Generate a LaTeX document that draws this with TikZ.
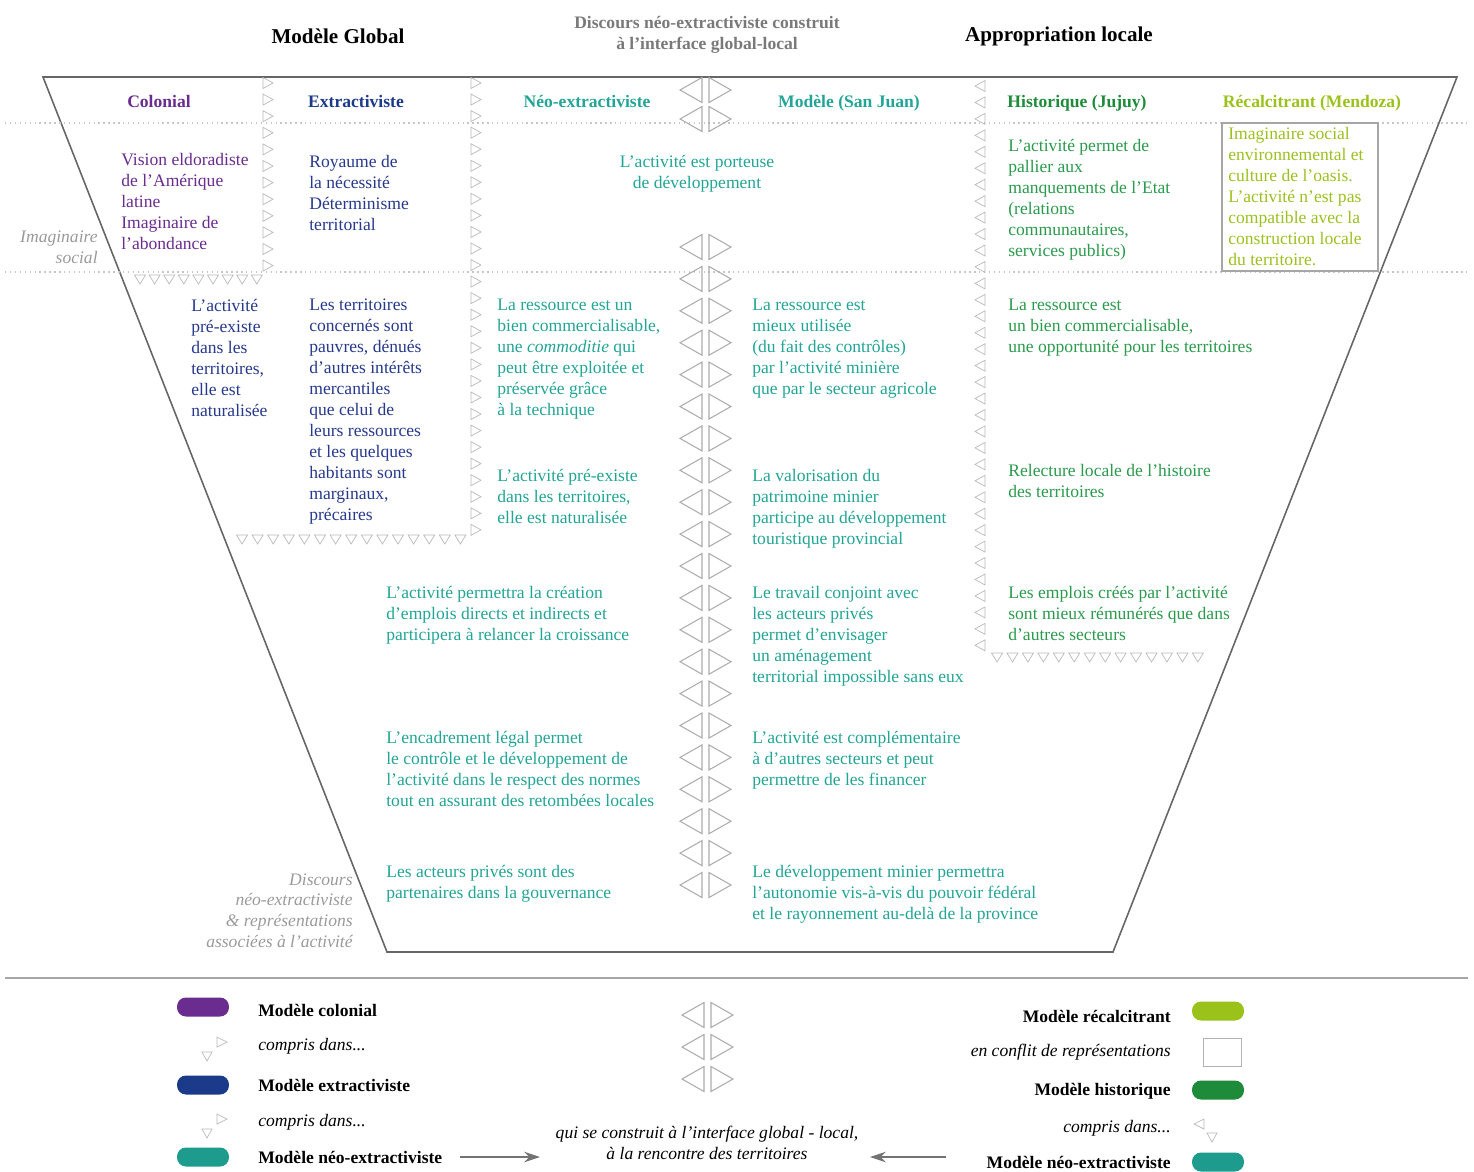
\documentclass[tikz,border=0pt]{standalone}
\usepackage{fontspec}
\setmainfont{Liberation Serif}
\usepackage{tikz}
\usetikzlibrary{arrows.meta}
\definecolor{colpurple}{HTML}{6A2C8E}
\definecolor{extblue}{HTML}{1B3A8A}
\definecolor{exttext}{HTML}{26398C}
\definecolor{neoteal}{HTML}{1D9C8E}
\definecolor{neotext}{HTML}{22A596}
\definecolor{histgreen}{HTML}{1E8B3A}
\definecolor{histtext}{HTML}{2A9A4C}
\definecolor{reclime}{HTML}{9AC21A}
\definecolor{rectext}{HTML}{9CC020}
\definecolor{sidegray}{HTML}{9A9A9A}

\begin{document}
\begin{tikzpicture}[x=0.02cm, y=-0.02cm,
    every node/.style={font=\fontsize{10}{11.95}\selectfont},
    txt/.style={anchor=north west, align=left, inner sep=0pt},
    colhead/.style={anchor=base, font=\fontsize{10}{12}\selectfont\bfseries, inner sep=0pt},
    sidelabel/.style={anchor=north east, align=right, inner sep=0pt, color=sidegray, font=\fontsize{10}{11.95}\selectfont\itshape},
    smalltri/.style={draw=gray!55, line width=0.4pt},
    bigtri/.style={draw=gray!65, line width=0.6pt},
    pill/.style={minimum width=1.04cm, minimum height=0.38cm, rounded corners=0.18cm, inner sep=0pt},
    legarrow/.style={draw=gray!90!black, line width=0.7pt, -{Stealth[length=9pt, width=6pt]}}]
    \useasboundingbox (0,0) rectangle (1474,1171);

    % Top titles
    \node[font=\fontsize{12}{14}\selectfont\bfseries] (global) at (338,36) {Modèle Global};
    \node[font=\fontsize{10}{11.9}\selectfont\bfseries, color=gray!95!black, align=center, anchor=north] (interface) at (707,10) {Discours néo-extractiviste construit\\à l’interface global-local};
    \node[font=\fontsize{12}{14}\selectfont\bfseries] (local) at (1059,36) {Appropriation locale};

    % Funnel outline and rows
    \draw[black!60, line width=0.9pt] (43,77) -- (1457,77) -- (1113,952) -- (387,952) -- cycle;
    \draw[gray!45, line width=0.8pt, dotted] (5,123) -- (1470,123);
    \draw[gray!45, line width=0.8pt, dotted] (5,272) -- (1470,272);

    % Column headers
    \node[colhead, color=colpurple] (hcol) at (159,107.5) {Colonial};
    \node[colhead, color=extblue] (hext) at (356,107.5) {Extractiviste};
    \node[colhead, color=neotext] (hneo) at (587,107.5) {Néo-extractiviste};
    \node[colhead, color=neotext] (hsj) at (849,107.5) {Modèle (San Juan)};
    \node[colhead, color=histgreen] (hjuj) at (1077,107.5) {Historique (Jujuy)};
    \node[colhead, color=reclime] (hmen) at (1312,107.5) {Récalcitrant (Mendoza)};

    % Side labels
    \node[sidelabel] (imag) at (98,231) {Imaginaire\\social};
    \node[sidelabel] (disc) at (353,873) {Discours\\néo-extractiviste\\\& représentations\\associées à l’activité};

    % Small triangles between columns
    \foreach \k in {0,...,11} {
        \pgfmathsetmacro{\ty}{83 + \k*16.6}
        \draw[smalltri] (263,\ty-5.5) -- (273,\ty) -- (263,\ty+5.5) -- cycle;
    }
    \foreach \k in {0,...,27} {
        \pgfmathsetmacro{\ty}{83 + \k*16.55}
        \draw[smalltri] (471,\ty-5.5) -- (481,\ty) -- (471,\ty+5.5) -- cycle;
    }
    \foreach \k in {0,...,34} {
        \pgfmathsetmacro{\ty}{86 + \k*16.45}
        \draw[smalltri] (985,\ty-5.5) -- (975,\ty) -- (985,\ty+5.5) -- cycle;
    }

    % Small triangles under boxes
    \foreach \k in {0,...,8} {
        \pgfmathsetmacro{\tx}{140 + \k*14.6}
        \draw[smalltri] (\tx-5.5,275) -- (\tx+5.5,275) -- (\tx,284) -- cycle;
    }
    \foreach \k in {0,...,14} {
        \pgfmathsetmacro{\tx}{242 + \k*15.6}
        \draw[smalltri] (\tx-5.5,535) -- (\tx+5.5,535) -- (\tx,544) -- cycle;
    }
    \foreach \k in {0,...,13} {
        \pgfmathsetmacro{\tx}{997 + \k*15.45}
        \draw[smalltri] (\tx-5.5,653) -- (\tx+5.5,653) -- (\tx,662) -- cycle;
    }

    % Central double triangles
    \foreach \ty in {90,119} {
        \draw[bigtri] (702,\ty-12.5) -- (680,\ty) -- (702,\ty+12.5) -- cycle;
        \draw[bigtri] (709,\ty-12.5) -- (731,\ty) -- (709,\ty+12.5) -- cycle;
    }
    \foreach \k in {0,...,20} {
        \pgfmathsetmacro{\ty}{247 + \k*31.9}
        \draw[bigtri] (702,\ty-12.5) -- (680,\ty) -- (702,\ty+12.5) -- cycle;
        \draw[bigtri] (709,\ty-12.5) -- (731,\ty) -- (709,\ty+12.5) -- cycle;
    }

    % Imaginaire social row
    \node[txt, color=colpurple] (colvision) at (121,153) {Vision eldoradiste\\de l’Amérique\\latine\\Imaginaire de\\l’abondance};
    \node[txt, color=exttext] (extroyaume) at (309,155) {Royaume de\\la nécessité\\Déterminisme\\territorial};
    \node[txt, anchor=north, align=center, color=neotext] (neoporteuse) at (697,155) {L’activité est porteuse\\de développement};
    \node[txt, color=histtext] (jujpallier) at (1008,139) {L’activité permet de\\pallier aux\\manquements de l’Etat\\(relations\\communautaires,\\services publics)};
    \draw[gray!70, line width=0.6pt] (1222,123) rectangle (1378,271);
    \node[txt, color=rectext] (menoasis) at (1228,127) {Imaginaire social\\environnemental et\\culture de l’oasis.\\L’activité n’est pas\\compatible avec la\\construction locale\\du territoire.};

    % Discours row
    \node[txt, color=exttext] (colpreexiste) at (191,299) {L’activité\\pré-existe\\dans les\\territoires,\\elle est\\naturalisée};
    \node[txt, color=exttext] (extpauvres) at (309,299) {Les territoires\\concernés sont\\pauvres, dénués\\d’autres intérêts\\mercantiles\\que celui de\\leurs ressources\\et les quelques\\habitants sont\\marginaux,\\précaires};
    \node[txt, color=neotext] (neoressource) at (497,299) {La ressource est un\\bien commercialisable,\\une \textit{commoditie} qui\\peut être exploitée et\\préservée grâce\\à la technique};
    \node[txt, color=neotext] (neopreexiste) at (497,469) {L’activité pré-existe\\dans les territoires,\\elle est naturalisée};
    \node[txt, color=neotext] (neoemplois) at (386,586) {L’activité permettra la création\\d’emplois directs et indirects et\\participera à relancer la croissance};
    \node[txt, color=neotext] (neocadre) at (386,731) {L’encadrement légal permet\\le contrôle et le développement de\\l’activité dans le respect des normes\\tout en assurant des retombées locales};
    \node[txt, color=neotext] (neoacteurs) at (386,865) {Les acteurs privés sont des\\partenaires dans la gouvernance};

    \node[txt, color=neotext] (sjressource) at (752,299) {La ressource est\\mieux utilisée\\(du fait des contrôles)\\par l’activité minière\\que par le secteur agricole};
    \node[txt, color=neotext] (sjpatrimoine) at (752,469) {La valorisation du\\patrimoine minier\\participe au développement\\touristique provincial};
    \node[txt, color=neotext] (sjtravail) at (752,586) {Le travail conjoint avec\\les acteurs privés\\permet d’envisager\\un aménagement\\territorial impossible sans eux};
    \node[txt, color=neotext] (sjcomplement) at (752,731) {L’activité est complémentaire\\à d’autres secteurs et peut\\permettre de les financer};
    \node[txt, color=neotext] (sjautonomie) at (752,865) {Le développement minier permettra\\l’autonomie vis-à-vis du pouvoir fédéral\\et le rayonnement au-delà de la province};

    \node[txt, color=histtext] (jujressource) at (1008,299) {La ressource est\\un bien commercialisable,\\une opportunité pour les territoires};
    \node[txt, color=histtext] (jujrelecture) at (1008,464) {Relecture locale de l’histoire\\des territoires};
    \node[txt, color=histtext] (jujemplois) at (1008,586) {Les emplois créés par l’activité\\sont mieux rémunérés que dans\\d’autres secteurs};

    % Legend
    \draw[gray!70, line width=0.8pt] (5,978) -- (1468,978);

    \node[pill, fill=colpurple] (pillcol) at (203,1007) {};
    \node[anchor=west, inner sep=0pt, font=\fontsize{10}{12}\selectfont\bfseries] (legcol) at (258,1010) {Modèle colonial};
    \draw[smalltri] (217,1037) -- (227,1042) -- (217,1047) -- cycle;
    \draw[smalltri] (202,1052) -- (212,1052) -- (207,1061) -- cycle;
    \node[anchor=west, inner sep=0pt, font=\fontsize{10}{12}\selectfont\itshape] (legcolin) at (258,1046) {compris dans...};
    \node[pill, fill=extblue] (pillext) at (203,1085) {};
    \node[anchor=west, inner sep=0pt, font=\fontsize{10}{12}\selectfont\bfseries] (legext) at (258,1085) {Modèle extractiviste};
    \draw[smalltri] (217,1114) -- (227,1119) -- (217,1124) -- cycle;
    \draw[smalltri] (202,1129) -- (212,1129) -- (207,1138) -- cycle;
    \node[anchor=west, inner sep=0pt, font=\fontsize{10}{12}\selectfont\itshape] (legextin) at (258,1122) {compris dans...};
    \node[pill, fill=neoteal] (pillneoL) at (203,1157) {};
    \node[anchor=west, inner sep=0pt, font=\fontsize{10}{12}\selectfont\bfseries] (legneoL) at (258,1157) {Modèle néo-extractiviste};

    \foreach \ty in {1015,1047,1079} {
        \draw[bigtri] (704,\ty-12.5) -- (682,\ty) -- (704,\ty+12.5) -- cycle;
        \draw[bigtri] (711,\ty-12.5) -- (733,\ty) -- (711,\ty+12.5) -- cycle;
    }
    \node[anchor=north, align=center, inner sep=0pt, font=\fontsize{10}{11.9}\selectfont\itshape] (legmid) at (707,1126) {qui se construit à l’interface global - local,\\à la rencontre des territoires};

    \node[pill, fill=reclime] (pillrec) at (1218,1011) {};
    \node[anchor=east, inner sep=0pt, font=\fontsize{10}{12}\selectfont\bfseries] (legrec) at (1171,1016) {Modèle récalcitrant};
    \node[draw=gray!60, minimum width=0.76cm, minimum height=0.56cm, inner sep=0pt] (legbox) at (1222,1052) {};
    \node[anchor=east, inner sep=0pt, font=\fontsize{10}{12}\selectfont\itshape] (legconf) at (1171,1052) {en conflit de représentations};
    \node[pill, fill=histgreen] (pillhist) at (1218,1090) {};
    \node[anchor=east, inner sep=0pt, font=\fontsize{10}{12}\selectfont\bfseries] (leghist) at (1171,1091) {Modèle historique};
    \draw[smalltri] (1204,1119) -- (1194,1124) -- (1204,1129) -- cycle;
    \draw[smalltri] (1207,1133) -- (1217,1133) -- (1212,1142) -- cycle;
    \node[anchor=east, inner sep=0pt, font=\fontsize{10}{12}\selectfont\itshape] (leghistin) at (1171,1128) {compris dans...};
    \node[pill, fill=neoteal] (pillneoR) at (1218,1162) {};
    \node[anchor=east, inner sep=0pt, font=\fontsize{10}{12}\selectfont\bfseries] (legneoR) at (1171,1162) {Modèle néo-extractiviste};

    % Legend arrows toward the interface
    \coordinate (arrLend) at (540,1157);
    \coordinate (arrRend) at (870,1157);
    \draw[legarrow, shorten <=0.34cm] (legneoL.east) -- (arrLend);
    \draw[legarrow, shorten <=0.8cm] (legneoR.west |- arrRend) -- (arrRend);
\end{tikzpicture}
\end{document}
